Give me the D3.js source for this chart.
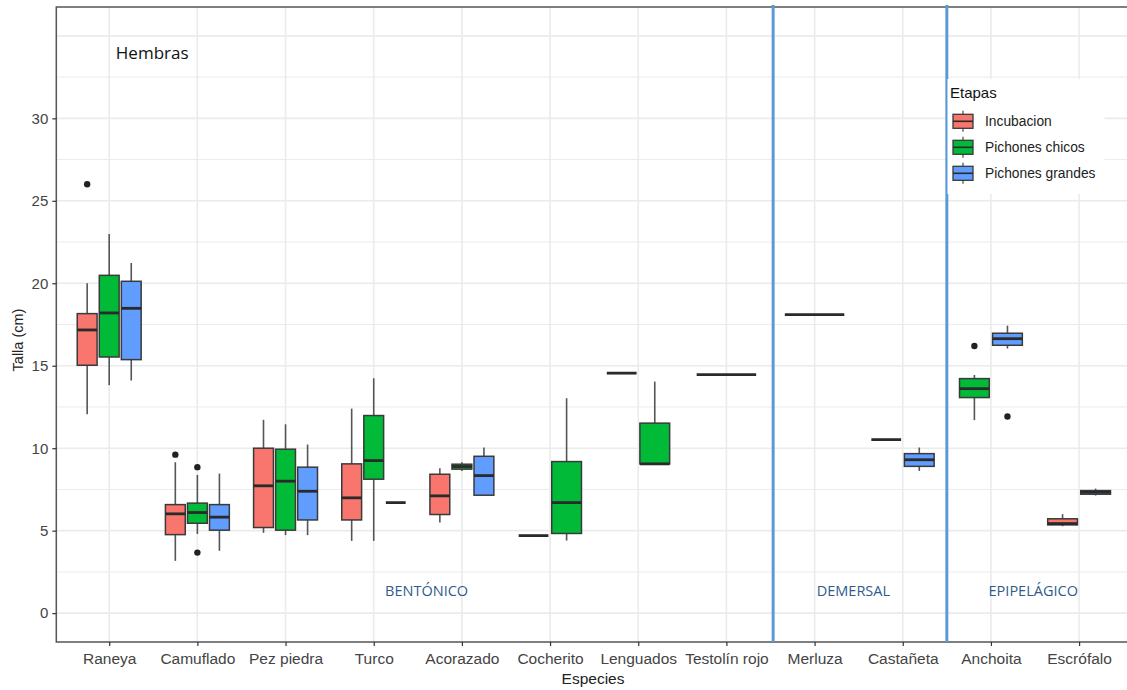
<!DOCTYPE html>
<html>
<head>
<meta charset="utf-8">
<script src="https://cdn.jsdelivr.net/npm/d3@7"></script>
<style>
  html, body { margin: 0; padding: 0; background: #fff; }
  svg { display: block; }
</style>
</head>
<body>
<svg id="chart" width="1127" height="690"></svg>
<script>
// Species on the x axis
const species = ["Raneya", "Camuflado", "Pez piedra", "Turco", "Acorazado", "Cocherito",
  "Lenguados", "Testolín rojo", "Merluza", "Castañeta", "Anchoita", "Escrófalo"];

// Breeding stages (fill groups)
const stages = ["Incubacion", "Pichones chicos", "Pichones grandes"];
const stageColors = ["#F8766D", "#00BA38", "#619CFF"];

// Box statistics per species: [lower whisker, Q1, median, Q3, upper whisker]
const incubacion = [
  [12.06, 15.03, 17.17, 18.16, 20.0],
  [3.17, 4.76, 6.02, 6.58, 9.15],
  [4.87, 5.19, 7.72, 10.0, 11.72],
  [4.38, 5.65, 6.99, 9.05, 12.4],
  [5.49, 5.98, 7.11, 8.42, 8.79],
  [4.7, 4.7, 4.7, 4.7, 4.7],
  [14.55, 14.55, 14.55, 14.55, 14.55],
  [14.46, 14.46, 14.46, 14.46, 14.46],
  [18.1, 18.1, 18.1, 18.1, 18.1],
  [10.52, 10.52, 10.52, 10.52, 10.52],
  null,
  [5.27, 5.35, 5.43, 5.72, 6.0]
];
const pichonesChicos = [
  [13.82, 15.53, 18.2, 20.48, 22.99],
  [4.8, 5.45, 6.1, 6.67, 8.38],
  [4.73, 5.03, 8.0, 9.94, 11.45],
  [4.38, 8.12, 9.25, 11.98, 14.24],
  [8.62, 8.73, 8.89, 9.03, 9.15],
  [4.4, 4.83, 6.7, 9.19, 13.03],
  [9.05, 9.05, 9.05, 11.52, 14.04],
  null,
  null,
  null,
  [11.7, 13.07, 13.61, 14.22, 14.44],
  null
];
const pichonesGrandes = [
  [14.1, 15.37, 18.48, 20.12, 21.23],
  [3.78, 5.03, 5.82, 6.58, 8.46],
  [4.73, 5.65, 7.39, 8.85, 10.22],
  [6.7, 6.7, 6.7, 6.7, 6.7],
  [7.15, 7.15, 8.34, 9.51, 10.04],
  null,
  null,
  null,
  null,
  [8.62, 8.9, 9.3, 9.67, 10.04],
  [16.04, 16.24, 16.64, 16.97, 17.43],
  [7.13, 7.21, 7.33, 7.43, 7.55]
];

// Outlying points: [species, stage, value]
const outliers = [
  ["Raneya", "Incubacion", 26.0],
  ["Camuflado", "Incubacion", 9.61],
  ["Camuflado", "Pichones chicos", 8.85],
  ["Camuflado", "Pichones chicos", 3.67],
  ["Anchoita", "Pichones chicos", 16.2],
  ["Anchoita", "Pichones grandes", 11.92]
];

// Y axis labels
const yTicks = [0, 5, 10, 15, 20, 25, 30];

// Habitat separators (in category units) and habitat labels
const separators = [7.53, 9.5];
const habitats = ["BENTÓNICO", "DEMERSAL", "EPIPELÁGICO"];
const habitatPos = [3.6, 8.44, 10.48];

const series = [incubacion, pichonesChicos, pichonesGrandes];

const svg = d3.select("#chart");
const panel = { left: 56.3, right: 1132, top: 7, bottom: 642 };

const x = d3.scalePoint().domain(species).range([panel.left, panel.right]).padding(0.6);
const step = x.step();
const xIdx = d3.scaleLinear().domain([0, species.length - 1])
  .range([x(species[0]), x(species[species.length - 1])]);
const y = d3.scaleLinear().domain([-1.75, 36.75]).range([panel.bottom, panel.top]);
const color = d3.scaleOrdinal().domain(stages).range(stageColors);

// Panel background + grid
svg.append("rect").attr("x", panel.left).attr("y", panel.top)
  .attr("width", panel.right - panel.left).attr("height", panel.bottom - panel.top)
  .attr("fill", "#fff");

const grid = svg.append("g");
const minor = d3.range(2.5, 35, 5);
const major = d3.range(0, 36, 5);
grid.selectAll("line.minor").data(minor).join("line")
  .attr("x1", panel.left).attr("x2", panel.right)
  .attr("y1", d => y(d)).attr("y2", d => y(d))
  .attr("stroke", "#ebebeb").attr("stroke-width", 1);
grid.selectAll("line.majorY").data(major).join("line")
  .attr("x1", panel.left).attr("x2", panel.right)
  .attr("y1", d => y(d)).attr("y2", d => y(d))
  .attr("stroke", "#ebebeb").attr("stroke-width", 1.6);
grid.selectAll("line.majorX").data(species).join("line")
  .attr("x1", d => x(d)).attr("x2", d => x(d))
  .attr("y1", panel.top).attr("y2", panel.bottom)
  .attr("stroke", "#ebebeb").attr("stroke-width", 1.6);

// Build box records with dodge positions
const boxes = [];
species.forEach((sp, i) => {
  const present = stages.map((st, k) => ({ st, k, s: series[k][i] })).filter(d => d.s);
  const n = present.length;
  const slot = step * 0.75 / n;
  present.forEach((d, j) => {
    const cx = x(sp) - step * 0.375 + slot * (j + 0.5);
    boxes.push({ sp, stage: d.st, stats: d.s, cx, w: slot * 0.9 });
  });
});

const gBox = svg.append("g");
const bg = gBox.selectAll("g.box").data(boxes).join("g");
// whiskers
bg.append("line").attr("x1", d => d.cx).attr("x2", d => d.cx)
  .attr("y1", d => y(d.stats[4])).attr("y2", d => y(d.stats[3]))
  .attr("stroke", "#555").attr("stroke-width", 1.6);
bg.append("line").attr("x1", d => d.cx).attr("x2", d => d.cx)
  .attr("y1", d => y(d.stats[1])).attr("y2", d => y(d.stats[0]))
  .attr("stroke", "#555").attr("stroke-width", 1.6);
// box
bg.append("rect")
  .attr("x", d => d.cx - d.w / 2).attr("width", d => d.w)
  .attr("y", d => y(d.stats[3])).attr("height", d => y(d.stats[1]) - y(d.stats[3]))
  .attr("fill", d => color(d.stage)).attr("stroke", "#3a3a3a").attr("stroke-width", 1.5);
// median
bg.append("line")
  .attr("x1", d => d.cx - d.w / 2).attr("x2", d => d.cx + d.w / 2)
  .attr("y1", d => y(d.stats[2])).attr("y2", d => y(d.stats[2]))
  .attr("stroke", "#2a2a2a").attr("stroke-width", 2.8);

// outliers
const boxOf = (sp, st) => boxes.find(b => b.sp === sp && b.stage === st);
svg.append("g").selectAll("circle").data(outliers).join("circle")
  .attr("cx", d => boxOf(d[0], d[1]).cx).attr("cy", d => y(d[2]))
  .attr("r", 3.2).attr("fill", "#222");

// Panel border
svg.append("rect").attr("x", panel.left).attr("y", panel.top)
  .attr("width", panel.right - panel.left).attr("height", panel.bottom - panel.top)
  .attr("fill", "none").attr("stroke", "#555").attr("stroke-width", 1.5);

// Axes
const axisFont = "'Liberation Sans', Arial, sans-serif";
const yAxis = svg.append("g").attr("transform", `translate(${panel.left},0)`)
  .call(d3.axisLeft(y).tickValues(yTicks).tickSize(4).tickPadding(4));
yAxis.select(".domain").remove();
yAxis.selectAll("line").attr("stroke", "#333").attr("stroke-width", 1.2);
yAxis.selectAll("text").attr("font-family", axisFont).attr("font-size", 15).attr("fill", "#444");

const xAxis = svg.append("g").attr("transform", `translate(0,${panel.bottom})`)
  .call(d3.axisBottom(x).tickSize(4).tickPadding(7));
xAxis.select(".domain").remove();
xAxis.selectAll("line").attr("stroke", "#333").attr("stroke-width", 1.2);
xAxis.selectAll("text").attr("font-family", axisFont).attr("font-size", 15.5).attr("fill", "#444");

svg.append("text").attr("x", 593).attr("y", 684)
  .attr("text-anchor", "middle").attr("font-family", axisFont).attr("font-size", 15.5)
  .attr("fill", "#222").text("Especies");
svg.append("text").attr("transform", "translate(23,340) rotate(-90)")
  .attr("text-anchor", "middle").attr("font-family", axisFont).attr("font-size", 14.5)
  .attr("fill", "#222").text("Talla (cm)");

// Habitat separators
svg.append("g").selectAll("line").data(separators).join("line")
  .attr("x1", d => xIdx(d)).attr("x2", d => xIdx(d))
  .attr("y1", panel.top - 2).attr("y2", panel.bottom)
  .attr("stroke", "#5B9BD5").attr("stroke-width", 3);

// Habitat labels
const annoFont = "'Open Sans', 'Noto Sans', sans-serif";
svg.append("g").selectAll("text").data(habitats).join("text")
  .attr("x", (d, i) => xIdx(habitatPos[i])).attr("y", y(1.35))
  .attr("dy", "0.35em").attr("text-anchor", "middle")
  .attr("font-family", annoFont).attr("font-size", 14.5).attr("fill", "#2f5b8c")
  .text(d => d);

svg.append("text").attr("x", xIdx(0.075)).attr("y", y(33.6))
  .attr("font-family", annoFont).attr("font-size", 17).attr("fill", "#111")
  .text("Hembras");

// Legend
const lg = svg.append("g");
lg.append("rect").attr("x", 947.5).attr("y", 79).attr("width", 157).attr("height", 115).attr("fill", "#fff");
lg.append("text").attr("x", 950).attr("y", 98).attr("font-family", axisFont)
  .attr("font-size", 15).attr("fill", "#111").text("Etapas");
const items = lg.selectAll("g.item").data(stages).join("g")
  .attr("transform", (d, i) => `translate(963,${121.3 + i * 26})`);
items.append("line").attr("y1", -10.5).attr("y2", 10.5).attr("stroke", "#555").attr("stroke-width", 1.3);
items.append("rect").attr("x", -10).attr("y", -7).attr("width", 20).attr("height", 14)
  .attr("fill", d => color(d)).attr("stroke", "#3a3a3a").attr("stroke-width", 1.3);
items.append("line").attr("x1", -10).attr("x2", 10).attr("stroke", "#2a2a2a").attr("stroke-width", 1.6);
items.append("text").attr("x", 22).attr("dy", "0.35em").attr("font-family", axisFont)
  .attr("font-size", 13.8).attr("fill", "#222").text(d => d);
</script>
</body>
</html>
